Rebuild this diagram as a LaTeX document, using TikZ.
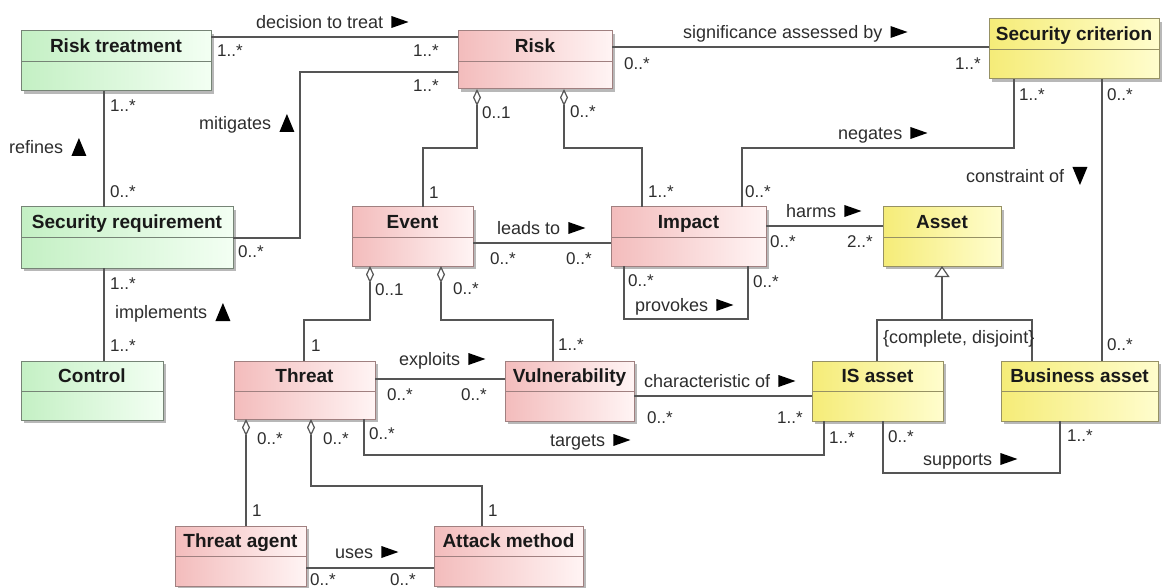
\documentclass[tikz,border=0pt]{standalone}
\usepackage{fontspec}
\setmainfont{Liberation Sans}
\usetikzlibrary{arrows.meta,shadows,fit}

\definecolor{pinkL}{RGB}{243,188,188}
\definecolor{pinkR}{RGB}{255,244,244}
\definecolor{greenL}{RGB}{196,240,196}
\definecolor{greenR}{RGB}{243,255,243}
\definecolor{yellowL}{RGB}{245,236,120}
\definecolor{yellowR}{RGB}{255,253,205}
\definecolor{pinkB}{RGB}{160,128,128}
\definecolor{greenB}{RGB}{118,132,118}
\definecolor{yellowB}{RGB}{150,145,100}
\definecolor{wire}{RGB}{85,85,85}
\definecolor{ink}{RGB}{45,45,45}
\definecolor{titleink}{RGB}{25,25,25}

% class box: frame fitted to two corners, header separator and centred title
\newcommand\umlclass[5]{%
  \node[#2box, fit={(#3) (#4)}] (#1) {};
  \draw[sepline, draw=#2B] ([yshift=-30pt]#1.north west) -- ([yshift=-30pt]#1.north east);
  \node[classtitle] (#1-title) at ([yshift=-15pt]#1.north) {#5};
}
% association name followed by a reading-direction pointer
\newcommand\ptrright[1]{\fill[ptr] ([xshift=8pt]#1.east) ++(0,-6) -- ++(17,6) -- ++(-17,6) -- cycle;}
\newcommand\ptrup[1]{\fill[ptr] ([xshift=8pt]#1.east) ++(0,9) -- ++(15,0) -- ++(-7.5,-18) -- cycle;}
\newcommand\ptrdown[1]{\fill[ptr] ([xshift=8pt]#1.east) ++(0,-9) -- ++(15,0) -- ++(-7.5,18) -- cycle;}
\newcommand\assocname[4]{\node[lab] (#1) at (#2) {#3}; #4{#1}}
\newcommand\multi[3]{\node[mult] (#1) at (#2) {#3};}

\begin{document}
\begin{tikzpicture}[
  x=1pt, y=-1pt,
  classbox/.style={draw, line width=1pt, inner sep=0pt, outer sep=0pt,
    drop shadow={shadow xshift=3pt, shadow yshift=-3pt, fill=black!28, opacity=1}},
  pinkbox/.style={classbox, draw=pinkB, left color=pinkL, right color=pinkR},
  greenbox/.style={classbox, draw=greenB, left color=greenL, right color=greenR},
  yellowbox/.style={classbox, draw=yellowB, left color=yellowL, right color=yellowR},
  sepline/.style={line width=0.9pt},
  classtitle/.style={font=\fontsize{19}{22}\selectfont\bfseries, text=titleink,
    inner sep=0pt, text height=13.6pt, text depth=0pt},
  lab/.style={font=\fontsize{18}{21}\selectfont, text=ink, inner sep=0pt,
    text height=12.9pt, text depth=0pt, anchor=west},
  mult/.style={font=\fontsize{17}{20}\selectfont, text=ink, inner sep=0pt,
    text height=12.2pt, text depth=0pt, anchor=west},
  assoc/.style={draw=wire, line width=1.2pt},
  agg/.style={assoc, {Diamond[open, length=17pt, width=8pt]}-},
  gen/.style={assoc, -{Triangle[open, length=11pt, width=15pt]}},
  ptr/.style={fill=black}
]
\useasboundingbox (0,0) rectangle (1162,588);

% ---- classes ----
\umlclass{rt}{green}{21,31}{211,91}{Risk treatment}
\umlclass{risk}{pink}{458,31}{612,89}{Risk}
\umlclass{sc}{yellow}{989,19}{1159,79}{Security criterion}
\umlclass{sr}{green}{21,207}{233,268}{Security requirement}
\umlclass{event}{pink}{352,207}{473,266}{Event}
\umlclass{impact}{pink}{611,207}{766,266}{Impact}
\umlclass{asset}{yellow}{883,207}{1001,266}{Asset}
\umlclass{ctrl}{green}{21,361}{163,420}{Control}
\umlclass{threat}{pink}{234,361}{375,419}{Threat}
\umlclass{vuln}{pink}{505,361}{634,421}{Vulnerability}
\umlclass{isa}{yellow}{812,361}{943,421}{IS asset}
\umlclass{ba}{yellow}{1001,361}{1158,421}{Business asset}
\umlclass{ta}{pink}{175,526}{306,586}{Threat agent}
\umlclass{am}{pink}{434,526}{583,586}{Attack method}

% ---- associations ----
\draw[assoc] (rt.east |- 0,37) -- (risk.west |- 0,37);
\draw[assoc] (sr.east |- 0,238) -| (300,72) -- (risk.west |- 0,72);
\draw[assoc] (rt.south -| 104,0) -- (sr.north -| 104,0);
\draw[assoc] (sr.south -| 104,0) -- (ctrl.north -| 104,0);
\draw[agg] (risk.south -| 477,0) |- (423,148) -- (event.north -| 423,0);
\draw[agg] (risk.south -| 564,0) |- (642,148) -- (impact.north -| 642,0);
\draw[assoc] (sc.south -| 1014,0) |- (742,148) -- (impact.north -| 742,0);
\draw[assoc] (sc.south -| 1102,0) -- (ba.north -| 1102,0);
\draw[assoc] (risk.east |- 0,47) -- (sc.west |- 0,47);
\draw[assoc] (event.east |- 0,243) -- (impact.west |- 0,243);
\draw[assoc] (impact.south -| 624,0) |- (748,319) -- (impact.south -| 748,0);
\draw[assoc] (impact.east |- 0,226) -- (asset.west |- 0,226);
\coordinate (gjoin) at (942,320);
\draw[assoc] (isa.north -| 877,0) |- (gjoin) -| (ba.north -| 1032,0);
\draw[gen] (gjoin) -- (asset.south -| gjoin);
\draw[agg] (event.south -| 370,0) |- (304,320) -- (threat.north -| 304,0);
\draw[agg] (event.south -| 441,0) |- (553,320) -- (vuln.north -| 553,0);
\draw[assoc] (threat.east |- 0,379) -- (vuln.west |- 0,379);
\draw[assoc] (vuln.east |- 0,396) -- (isa.west |- 0,396);
\draw[assoc] (threat.south -| 364,0) |- (824,455) -- (isa.south -| 824,0);
\draw[assoc] (isa.south -| 883,0) |- (1060,473) -- (ba.south -| 1060,0);
\draw[agg] (threat.south -| 246,0) -- (ta.north -| 246,0);
\draw[agg] (threat.south -| 311,0) |- (482,486) -- (am.north -| 482,0);
\draw[assoc] (ta.east |- 0,568) -- (am.west |- 0,568);

% ---- association names ----
\assocname{n-treat}{256,22}{decision to treat}{\ptrright}
\assocname{n-mitig}{199,123}{mitigates}{\ptrup}
\assocname{n-refin}{9,147}{refines}{\ptrup}
\assocname{n-impl}{115,312}{implements}{\ptrup}
\assocname{n-signif}{683,32}{significance assessed by}{\ptrright}
\assocname{n-neg}{838,133}{negates}{\ptrright}
\assocname{n-constr}{966,176}{constraint of}{\ptrdown}
\assocname{n-leads}{497,228}{leads to}{\ptrright}
\assocname{n-harms}{786,211}{harms}{\ptrright}
\assocname{n-prov}{635,305}{provokes}{\ptrright}
\node[lab] (n-gen) at (883,337) {\{complete, disjoint\}};
\assocname{n-expl}{399,359}{exploits}{\ptrright}
\assocname{n-char}{644,381}{characteristic of}{\ptrright}
\assocname{n-targ}{550,440}{targets}{\ptrright}
\assocname{n-supp}{923,459}{supports}{\ptrright}
\assocname{n-uses}{335,552}{uses}{\ptrright}

% ---- multiplicities ----
\multi{m1}{217,50}{1..*}
\multi{m2}{413,50}{1..*}
\multi{m3}{238,251}{0..*}
\multi{m4}{413,85}{1..*}
\multi{m5}{110,105}{1..*}
\multi{m6}{110,191}{0..*}
\multi{m7}{110,283}{1..*}
\multi{m8}{110,345}{1..*}
\multi{m9}{482,112}{0..1}
\multi{m10}{429,192}{1}
\multi{m11}{570,111}{0..*}
\multi{m12}{648,191}{1..*}
\multi{m13}{1019,94}{1..*}
\multi{m14}{745,191}{0..*}
\multi{m15}{1107,94}{0..*}
\multi{m16}{1107,344}{0..*}
\multi{m17}{624,63}{0..*}
\multi{m18}{955,63}{1..*}
\multi{m19}{490,258}{0..*}
\multi{m20}{566,258}{0..*}
\multi{m21}{628,280}{0..*}
\multi{m22}{753,281}{0..*}
\multi{m23}{770,241}{0..*}
\multi{m24}{847,241}{2..*}
\multi{m25}{375,289}{0..1}
\multi{m26}{311,345}{1}
\multi{m27}{453,288}{0..*}
\multi{m28}{558,344}{1..*}
\multi{m29}{387,394}{0..*}
\multi{m30}{461,394}{0..*}
\multi{m31}{647,417}{0..*}
\multi{m32}{777,417}{1..*}
\multi{m33}{369,433}{0..*}
\multi{m34}{829,437}{1..*}
\multi{m35}{888,436}{0..*}
\multi{m36}{1067,435}{1..*}
\multi{m37}{257,438}{0..*}
\multi{m38}{252,510}{1}
\multi{m39}{323,438}{0..*}
\multi{m40}{488,510}{1}
\multi{m41}{310,579}{0..*}
\multi{m42}{390,579}{0..*}
\end{tikzpicture}
\end{document}
